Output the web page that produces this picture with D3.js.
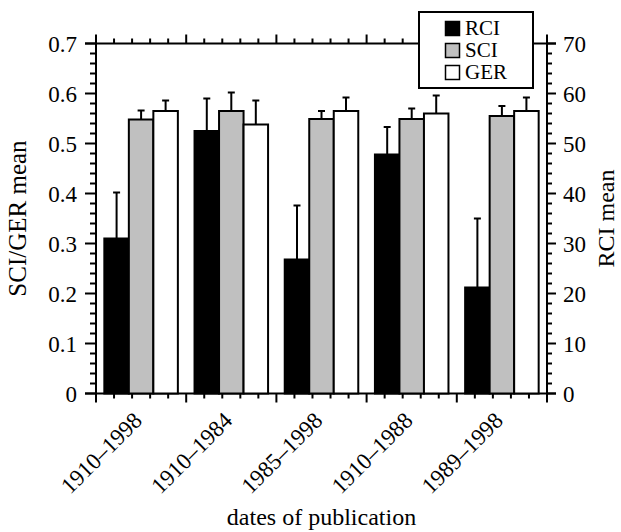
<!DOCTYPE html>
<html><head><meta charset="utf-8">
<script src="https://cdn.jsdelivr.net/npm/d3@7"></script>
<style>body{margin:0;background:#fff}svg{display:block}text{font-family:"Liberation Serif","Times New Roman",serif;fill:#000}</style>
</head><body>
<script>
const categories = ["1910–1998","1910–1984","1985–1998","1910–1988","1989–1998"];
const series = ["RCI","SCI","GER"];
const rciMean = [31.0, 52.5, 26.8, 47.8, 21.2];
const rciErr  = [40.2, 59.0, 37.6, 53.3, 35.0];
const sciMean = [0.548, 0.565, 0.549, 0.549, 0.555];
const sciErr  = [0.566, 0.602, 0.565, 0.570, 0.575];
const gerMean = [0.565, 0.538, 0.565, 0.560, 0.565];
const gerErr  = [0.586, 0.586, 0.592, 0.596, 0.592];
const leftTicks = [0,0.1,0.2,0.3,0.4,0.5,0.6,0.7];
const rightTicks = [0,10,20,30,40,50,60,70];
const colors = {RCI:"#000000", SCI:"#c0c0c0", GER:"#ffffff"};

const W=621,H=532;
const m={l:96,r:74,t:43.5,b:138.5};
const svg=d3.select("body").append("svg").attr("width",W).attr("height",H);
const x0=m.l, x1=W-m.r, y0=H-m.b, y1=m.t;

const x=d3.scaleBand().domain(categories).range([x0,x1]).paddingInner(0).paddingOuter(0);
const xs=d3.scaleBand().domain(series).range([0,x.bandwidth()]).paddingOuter(0.34).paddingInner(0);
const yL=d3.scaleLinear().domain([0,0.7]).range([y0,y1]);
const yR=d3.scaleLinear().domain([0,70]).range([y0,y1]);

// frame minor/major ticks on x (top & bottom)
const xTickPos=d3.range(0,categories.length*5+1).map(i=>x0+i*(x1-x0)/(categories.length*5));
const g=svg.append("g").attr("stroke","#000").attr("stroke-width",2);
xTickPos.forEach((p,i)=>{
  const major=i%5===0;
  const L=major?9:5;
  g.append("line").attr("x1",p).attr("x2",p).attr("y1",y0).attr("y2",y0+L);
  g.append("line").attr("x1",p).attr("x2",p).attr("y1",y1).attr("y2",y1-L);
});
// y minor ticks
d3.range(0,0.7001,0.02).forEach((v,i)=>{
  const major=i%5===0;
  const yy=yL(v);
  g.append("line").attr("x1",x0).attr("x2",x0-(major?11:6)).attr("y1",yy).attr("y2",yy);
});
d3.range(0,70.001,2).forEach((v,i)=>{
  const major=i%5===0;
  const yy=yR(v);
  g.append("line").attr("x1",x1).attr("x2",x1+(major?9:5)).attr("y1",yy).attr("y2",yy);
});
// frame lines
g.append("line").attr("x1",x0).attr("x2",x0).attr("y1",y1).attr("y2",y0);
g.append("line").attr("x1",x1).attr("x2",x1).attr("y1",y1).attr("y2",y0);
g.append("line").attr("x1",x0-11).attr("x2",x1+9).attr("y1",y0).attr("y2",y0);
g.append("line").attr("x1",x0-11).attr("x2",x1+9).attr("y1",y1).attr("y2",y1);

// tick labels
leftTicks.forEach(v=>{
  svg.append("text").attr("x",x0-19).attr("y",yL(v)).attr("dy","0.35em")
    .attr("text-anchor","end").attr("font-size",23).text(v===0?"0":d3.format(".1f")(v));
});
rightTicks.forEach(v=>{
  svg.append("text").attr("x",x1+16).attr("y",yR(v)).attr("dy","0.35em")
    .attr("text-anchor","start").attr("font-size",23).text(v);
});

// bars
const data=categories.map((c,i)=>[
  {c,s:"RCI",v:yR(rciMean[i]),e:yR(rciErr[i])},
  {c,s:"SCI",v:yL(sciMean[i]),e:yL(sciErr[i])},
  {c,s:"GER",v:yL(gerMean[i]),e:yL(gerErr[i])}
]).flat();
const bw=xs.bandwidth();
const bars=svg.append("g");
data.forEach(d=>{
  const bx=x(d.c)+xs(d.s);
  const cx=bx+bw/2;
  bars.append("line").attr("x1",cx).attr("x2",cx).attr("y1",d.v).attr("y2",d.e).attr("stroke","#000").attr("stroke-width",2);
  bars.append("line").attr("x1",cx-3.5).attr("x2",cx+3.5).attr("y1",d.e).attr("y2",d.e).attr("stroke","#000").attr("stroke-width",2);
  bars.append("rect").attr("x",bx).attr("y",d.v).attr("width",bw).attr("height",y0-d.v)
    .attr("fill",colors[d.s]).attr("stroke","#000").attr("stroke-width",2);
});

// x labels
categories.forEach(c=>{
  const cx=x(c)+x.bandwidth()/2;
  svg.append("text").attr("transform",`translate(${cx-9},${y0+17}) rotate(-45)`)
    .attr("text-anchor","end").attr("dy","0.7em").attr("font-size",23).text(c);
});

// axis titles
svg.append("text").attr("transform",`translate(26,${(y0+y1)/2}) rotate(-90)`)
  .attr("text-anchor","middle").attr("font-size",25).text("SCI/GER mean");
svg.append("text").attr("transform",`translate(614,${(y0+y1)/2}) rotate(-90)`)
  .attr("text-anchor","middle").attr("font-size",24).text("RCI mean");
svg.append("text").attr("x",(x0+x1)/2).attr("y",525).attr("text-anchor","middle").attr("font-size",24).text("dates of publication");

// legend
const lg=svg.append("g");
lg.append("rect").attr("x",419).attr("y",12).attr("width",114).attr("height",76).attr("fill","#fff").attr("stroke","#000").attr("stroke-width",2);
series.forEach((s,i)=>{
  const yy=28+i*22;
  lg.append("rect").attr("x",445.5).attr("y",yy-6.5).attr("width",14).attr("height",14).attr("fill",colors[s]).attr("stroke","#000").attr("stroke-width",1.5);
  lg.append("text").attr("x",465).attr("y",yy).attr("dy","0.35em").attr("font-size",21).text(s);
});
</script>
</body></html>
